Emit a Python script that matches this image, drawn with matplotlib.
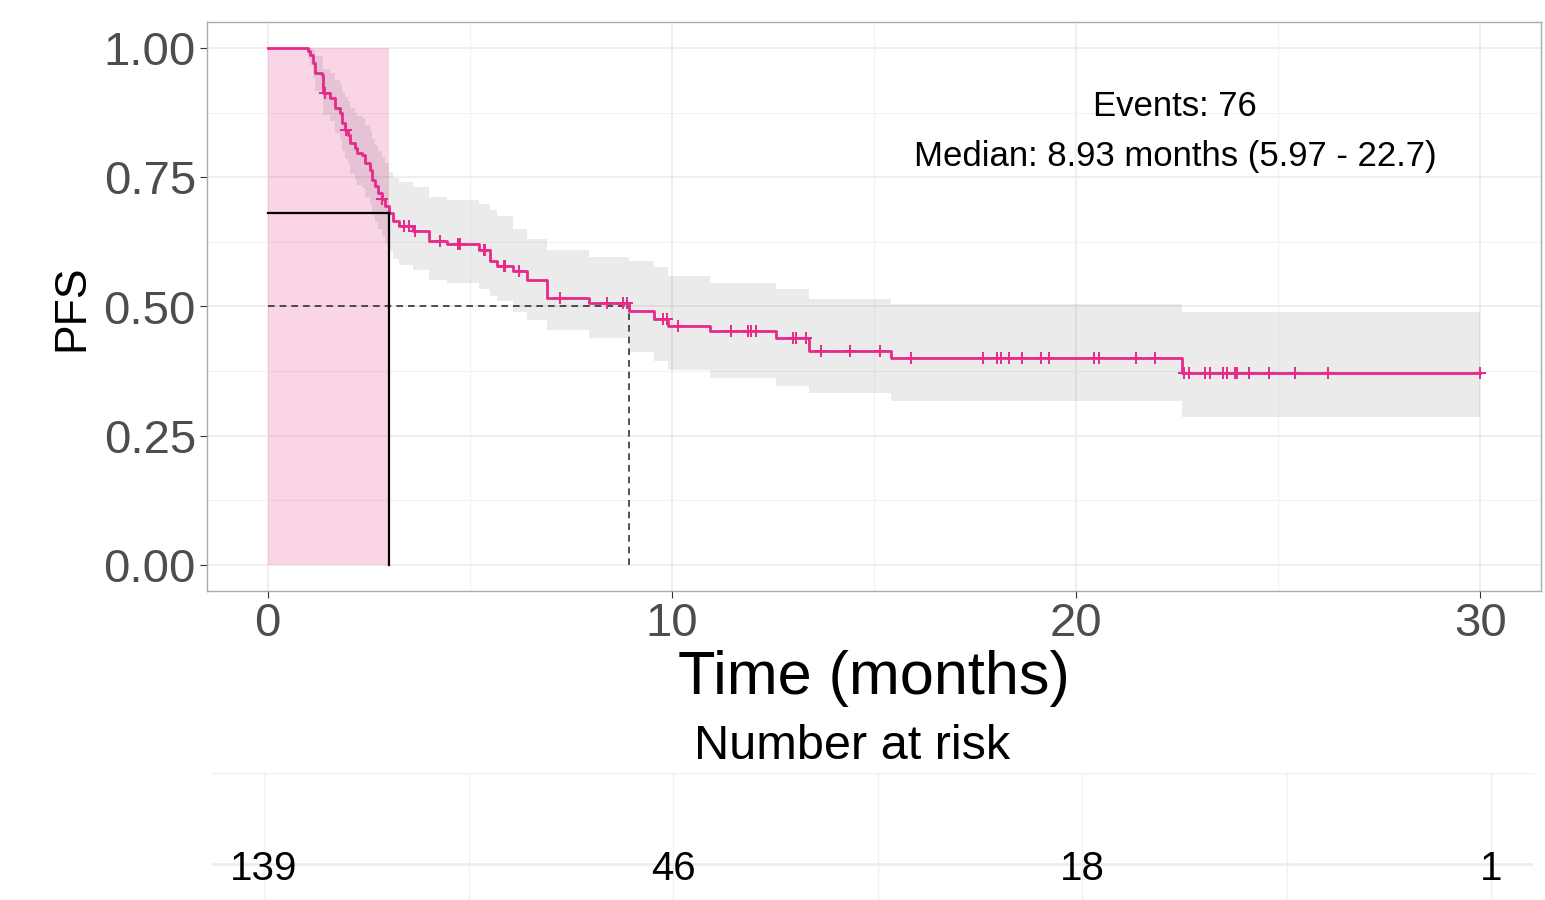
import matplotlib
matplotlib.use("Agg")
import matplotlib.pyplot as plt
import numpy as np

plt.rcParams['font.family'] = ['Liberation Sans', 'DejaVu Sans']

# Kaplan-Meier step function (event times, survival after each step, 95% CI)
step_times = [0.00, 1.00, 1.05, 1.13, 1.17, 1.34, 1.38, 1.54, 1.67, 1.79, 1.83, 1.92,
              2.00, 2.04, 2.16, 2.20, 2.33, 2.41, 2.53, 2.57, 2.65, 2.74, 2.82, 2.90,
              2.99, 3.10, 3.25, 3.60, 3.98, 4.44, 5.22, 5.51, 5.67, 6.08, 6.41, 6.90,
              7.94, 8.93, 9.55, 9.91, 10.94, 12.58, 13.38, 15.42, 22.63]
surv = [1.000, 0.993, 0.986, 0.970, 0.951, 0.948, 0.913, 0.903, 0.884, 0.874, 0.855, 0.842,
        0.832, 0.816, 0.806, 0.797, 0.793, 0.777, 0.764, 0.745, 0.732, 0.720, 0.707, 0.694,
        0.681, 0.665, 0.655, 0.645, 0.626, 0.620, 0.610, 0.587, 0.578, 0.568, 0.552, 0.517,
        0.507, 0.491, 0.475, 0.462, 0.452, 0.440, 0.414, 0.401, 0.372]
upper = [1.000, 1.000, 1.000, 0.995, 0.985, 0.983, 0.960, 0.952, 0.938, 0.930, 0.915, 0.905,
         0.897, 0.884, 0.875, 0.868, 0.865, 0.851, 0.840, 0.823, 0.812, 0.801, 0.789, 0.777,
         0.760, 0.748, 0.740, 0.731, 0.712, 0.706, 0.698, 0.687, 0.674, 0.650, 0.630, 0.610,
         0.596, 0.587, 0.576, 0.558, 0.546, 0.533, 0.514, 0.504, 0.490]
lower = [1.000, 0.979, 0.966, 0.942, 0.917, 0.912, 0.870, 0.858, 0.835, 0.823, 0.801, 0.786,
         0.775, 0.756, 0.745, 0.735, 0.730, 0.712, 0.698, 0.677, 0.663, 0.650, 0.636, 0.622,
         0.608, 0.592, 0.581, 0.570, 0.552, 0.545, 0.533, 0.520, 0.511, 0.490, 0.474, 0.455,
         0.440, 0.412, 0.394, 0.378, 0.362, 0.346, 0.333, 0.318, 0.286]
last_followup = 30.0

censor_times = [1.41, 1.93, 2.84, 3.37, 3.49, 3.65, 4.27, 4.72, 4.76, 5.34, 5.38, 5.84,
                5.88, 6.21, 7.23, 8.39, 8.80, 8.88, 9.79, 9.87, 10.16, 11.47, 11.88, 11.96,
                12.09, 13.00, 13.08, 13.33, 13.69, 14.40, 15.14, 15.92, 17.69, 18.05, 18.13,
                18.35, 18.67, 19.12, 19.33, 20.44, 20.57, 21.47, 21.96, 22.67, 22.79, 23.20,
                23.30, 23.63, 23.74, 23.94, 23.98, 24.27, 24.78, 25.42, 26.23, 29.99]

# Landmark at 3 months and median survival
landmark_time = 3.0
landmark_surv = 0.681
median_time = 8.93
events_label = "Events: 76"
median_label = "Median: 8.93 months (5.97 - 22.7)"

# Number at risk table
risk_times = [0, 10, 20, 30]
risk_counts = [139, 46, 18, 1]

curve_color = "#E7298A"
W, H = 1545, 900
fig = plt.figure(figsize=(W / 100, H / 100), dpi=100)
fig.patch.set_facecolor("white")


def fx(px):
    return px / W


def fy(py):
    return 1 - py / H


ax = fig.add_axes([fx(207), fy(591), fx(1541) - fx(207), fy(22) - fy(591)])
ax.set_xlim(-1.5, 31.5)
ax.set_ylim(-0.05, 1.05)
ax.set_xticks([0, 10, 20, 30])
ax.set_xticks([5, 15, 25], minor=True)
ax.set_yticks([0, 0.25, 0.5, 0.75, 1.0])
ax.set_yticklabels(["0.00", "0.25", "0.50", "0.75", "1.00"])
ax.set_yticks([0.125, 0.375, 0.625, 0.875], minor=True)
ax.grid(which="major", color="#EBEBEB", lw=1.1)
ax.grid(which="minor", color="#F2F2F2", lw=0.8)
ax.set_axisbelow(True)
for s in ax.spines.values():
    s.set_color("#ABABAB")
    s.set_linewidth(1.0)
ax.tick_params(which="major", length=5, color="#333333", labelcolor="#4D4D4D",
               labelsize=34, pad=3)
ax.tick_params(which="minor", length=0)

# landmark shading
ax.fill_between([0, landmark_time], [0, 0], [1, 1], color=curve_color, alpha=0.2,
                lw=0, zorder=1)

t_ext = np.array(step_times + [last_followup])
s_ext = np.array(surv + [surv[-1]])
u_ext = np.array(upper + [upper[-1]])
l_ext = np.array(lower + [lower[-1]])

ax.fill_between(t_ext, l_ext, u_ext, step="post", color="black", alpha=0.08,
                lw=0, zorder=2)
ax.step(t_ext, s_ext, where="post", color=curve_color, lw=2.0, zorder=4)

ct = np.array(censor_times)
idx = np.searchsorted(np.array(step_times), ct, side="right") - 1
cs = np.array(surv)[idx]
ax.plot(ct, cs, ls="none", marker="+", ms=8, mew=1.4, color=curve_color, zorder=5)

# median reference lines
ax.plot([0, median_time], [0.5, 0.5], ls=(0, (4, 3)), color="#333333", lw=1.2, zorder=3)
ax.plot([median_time, median_time], [0, 0.5], ls=(0, (4, 3)), color="#333333", lw=1.2,
        zorder=3)
# landmark lines
ax.plot([0, landmark_time], [landmark_surv, landmark_surv], color="black", lw=1.6, zorder=6)
ax.plot([landmark_time, landmark_time], [0, landmark_surv], color="black", lw=1.6, zorder=6)

ax.text(22.45, 0.869, events_label, ha="center", va="baseline", fontsize=25, color="black")
ax.text(22.45, 0.772, median_label, ha="center", va="baseline", fontsize=25, color="black")

fig.text(fx(873.5), fy(694), "Time (months)", ha="center", va="baseline", fontsize=44)
fig.text(fx(72), fy(308), "PFS", ha="center", va="center", rotation=90, fontsize=32)
fig.text(fx(852), fy(759), "Number at risk", ha="center", va="baseline", fontsize=35)

# risk table
rax = fig.add_axes([fx(212), 0, fx(1533) - fx(212), fy(773)])
x0 = (212 - 264) / 40.9
x1 = (1533 - 264) / 40.9
rax.set_xlim(x0, x1)
rax.set_ylim(0, 1)
row_y = (900 - 864) / 127
for xv in [0, 5, 10, 15, 20, 25, 30]:
    rax.axvline(xv, color="#F0F0F0", lw=1.0, zorder=0)
rax.axhline(row_y, color="#EBEBEB", lw=1.8, zorder=0)
for s in ["left", "right", "bottom"]:
    rax.spines[s].set_visible(False)
rax.spines["top"].set_color("#EFEFEF")
rax.set_xticks([])
rax.set_yticks([])
for t, n in zip(risk_times, risk_counts):
    rax.text(t, (900 - 880) / 127, str(n), ha="center", va="baseline", fontsize=29,
             color="black")

fig.savefig("out.png", dpi=100, facecolor="white")
